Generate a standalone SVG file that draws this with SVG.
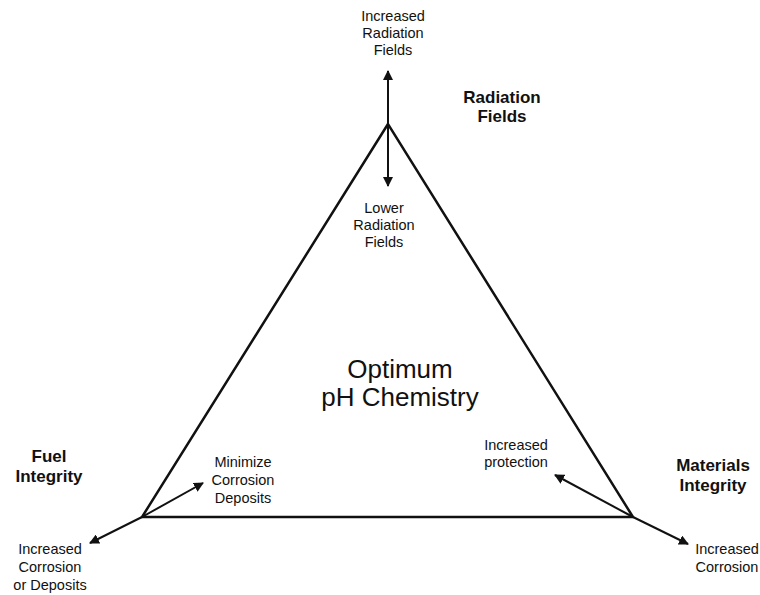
<svg xmlns="http://www.w3.org/2000/svg" width="760" height="595" viewBox="0 0 760 595">
<style>
.t{font-family:"Liberation Sans",Arial,sans-serif;font-size:14.5px;fill:#111;text-anchor:middle}
.b{font-family:"Liberation Sans",Arial,sans-serif;font-size:17px;font-weight:bold;fill:#111;text-anchor:middle}
.c{font-family:"Liberation Sans",Arial,sans-serif;font-size:26px;fill:#111;text-anchor:middle}
.ln{stroke:#111;stroke-width:2.5;fill:none}
.ar{stroke:#111;stroke-width:2;fill:none;marker-end:url(#ah)}
</style>
<defs>
<marker id="ah" viewBox="0 0 10 10" refX="9" refY="5" markerWidth="5" markerHeight="5" orient="auto" markerUnits="strokeWidth">
<path d="M0,0 L10,5 L0,10 z" fill="#111"/>
</marker>
</defs>
<rect width="760" height="595" fill="#fff"/>
<g id="connectors">
<polygon class="ln" points="388,124 142,517 633,517" stroke-linejoin="miter"/>
<line class="ar" x1="388" y1="124" x2="388" y2="71"/>
<line class="ar" x1="388" y1="124" x2="388" y2="186"/>
<line class="ar" x1="142" y1="517" x2="203" y2="483"/>
<line class="ar" x1="142" y1="517" x2="90" y2="543"/>
<line class="ar" x1="633" y1="517" x2="555" y2="475"/>
<line class="ar" x1="633" y1="517" x2="688" y2="544"/>
</g>
<g id="increased-radiation">
<text class="t" x="393" y="21">Increased</text>
<text class="t" x="393" y="38">Radiation</text>
<text class="t" x="393" y="55">Fields</text>
</g>
<g id="radiation-fields">
<text class="b" x="502" y="103">Radiation</text>
<text class="b" x="502" y="122">Fields</text>
</g>
<g id="lower-radiation">
<text class="t" x="384" y="213">Lower</text>
<text class="t" x="384" y="230">Radiation</text>
<text class="t" x="384" y="247">Fields</text>
</g>
<g id="optimum">
<text class="c" x="400" y="378">Optimum</text>
<text class="c" x="400" y="406">pH Chemistry</text>
</g>
<g id="fuel-integrity">
<text class="b" x="49" y="462">Fuel</text>
<text class="b" x="49" y="482">Integrity</text>
</g>
<g id="minimize">
<text class="t" x="243" y="467">Minimize</text>
<text class="t" x="243" y="485">Corrosion</text>
<text class="t" x="243" y="503">Deposits</text>
</g>
<g id="increased-corrosion-deposits">
<text class="t" x="50" y="554">Increased</text>
<text class="t" x="50" y="572">Corrosion</text>
<text class="t" x="50" y="590">or Deposits</text>
</g>
<g id="increased-protection">
<text class="t" x="516" y="450">Increased</text>
<text class="t" x="516" y="467">protection</text>
</g>
<g id="materials-integrity">
<text class="b" x="713" y="471">Materials</text>
<text class="b" x="713" y="491">Integrity</text>
</g>
<g id="increased-corrosion">
<text class="t" x="727" y="554">Increased</text>
<text class="t" x="727" y="572">Corrosion</text>
</g>
</svg>
